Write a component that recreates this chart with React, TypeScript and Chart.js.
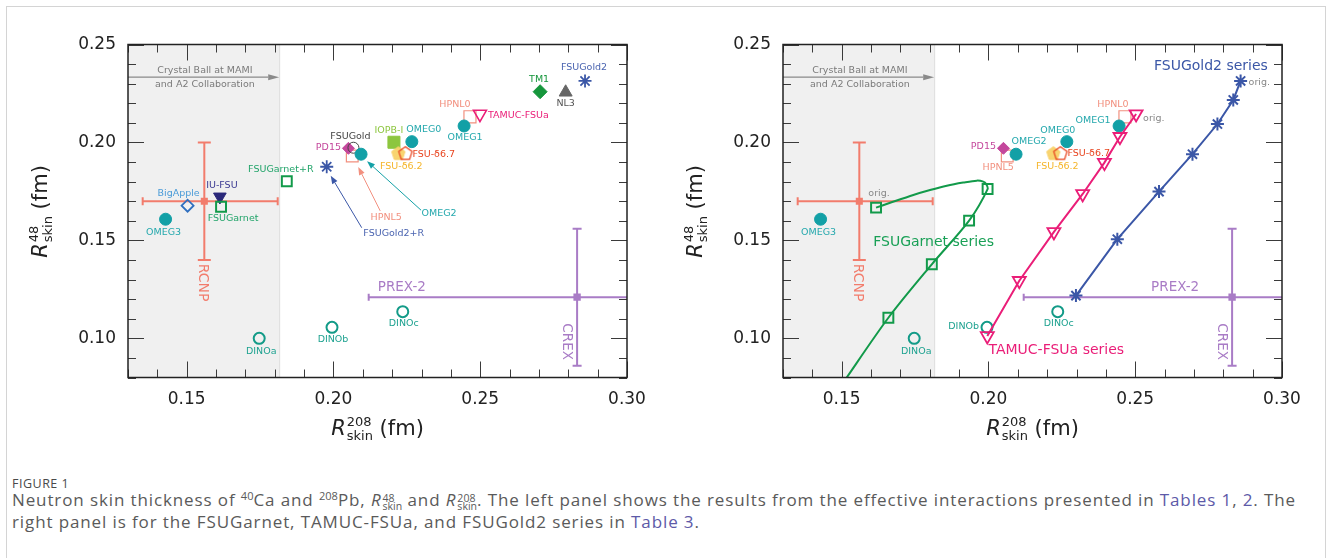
import React, { useEffect, useRef } from "react";
import { Chart, registerables } from "chart.js";

Chart.register(...registerables);

// ---------------- axes ----------------
const X_MIN = 0.13;
const X_MAX = 0.3;
const Y_MIN = 0.08;
const Y_MAX = 0.25;
const MAJOR_STEP = 0.05;
const MINOR_STEP = 0.01;
const X_TITLE_SUP = "208";
const Y_TITLE_SUP = "48";

// ---------------- left panel: effective interactions (R208 skin, R48 skin in fm) ----------------
const MODEL_NAMES = [
  "OMEG3", "BigApple", "IU-FSU", "FSUGarnet", "FSUGarnet+R", "FSUGold2+R", "HPNL5", "PD15", "FSUGold",
  "OMEG2", "IOPB-I", "OMEG0", "FSU-δ6.2", "FSU-δ6.7", "HPNL0", "OMEG1", "TAMUC-FSUa", "TM1", "NL3",
  "FSUGold2", "DINOa", "DINOb", "DINOc",
];
const MODEL_R208 = [
  0.1428, 0.1503, 0.1613, 0.1617, 0.1841, 0.1977, 0.2064, 0.2051, 0.2068,
  0.2094, 0.2206, 0.2267, 0.2221, 0.2245, 0.2465, 0.2445, 0.2499, 0.2704, 0.2791,
  0.2857, 0.1747, 0.1995, 0.2236,
];
const MODEL_R48 = [
  0.1608, 0.1677, 0.1723, 0.1672, 0.1802, 0.1876, 0.1931, 0.197, 0.1973,
  0.194, 0.2001, 0.2004, 0.1945, 0.1945, 0.2131, 0.2084, 0.2145, 0.2259, 0.2256,
  0.2314, 0.1, 0.1056, 0.1136,
];

// right panel: models repeated from the left panel
const RIGHT_MODELS = ["OMEG3", "DINOa", "DINOb", "DINOc", "HPNL5", "PD15", "OMEG2", "OMEG0", "FSU-δ6.2", "FSU-δ6.7", "HPNL0", "OMEG1"];

// ---------------- right panel: parameter series ----------------
const FSUGARNET_SERIES_R208 = [0.1617, 0.1997, 0.1934, 0.1807, 0.1659];
const FSUGARNET_SERIES_R48 = [0.1667, 0.1762, 0.1601, 0.1378, 0.1105];
const FSUGARNET_CURVE_R208 = [0.1617, 0.1665, 0.1744, 0.1801, 0.1858, 0.1914, 0.196, 0.1982, 0.1992, 0.1997, 0.1934, 0.1807, 0.1659, 0.1501];
const FSUGARNET_CURVE_R48 = [0.1667, 0.1692, 0.1732, 0.1757, 0.1779, 0.1795, 0.1805, 0.18, 0.1788, 0.1762, 0.1601, 0.1378, 0.1105, 0.0765];
const TAMUC_SERIES_R208 = [0.2503, 0.2448, 0.2395, 0.2321, 0.2223, 0.2105, 0.1996];
const TAMUC_SERIES_R48 = [0.2145, 0.2029, 0.1897, 0.1737, 0.1543, 0.1294, 0.1012];
const FSUGOLD2_SERIES_R208 = [0.2859, 0.2834, 0.278, 0.2695, 0.2581, 0.2439, 0.2298];
const FSUGOLD2_SERIES_R48 = [0.2314, 0.2217, 0.2094, 0.194, 0.1749, 0.1506, 0.1218];

// ---------------- experiments ----------------
const RCNP_R208 = [0.135, 0.156, 0.181]; // lo, central, hi
const RCNP_R48 = [0.14, 0.17, 0.2];
const PREX2_R208 = [0.212, 0.283, 0.354];
const CREX_R48 = [0.086, 0.121, 0.156];
const CRYSTAL_BALL_R208_MAX = 0.1815;
const CRYSTAL_BALL_TEXT = ["Crystal Ball at MAMI", "and A2 Collaboration"];

// ---------------- styles ----------------
const FONT = '"DejaVu Sans", sans-serif';
const TEAL = "#12a0a6";
const TEAL_TXT = "#24a8ad";
const DINO = "#139b88";
const DINO_TXT = "#1ea290";
const RCNP_COLOR = "#f27c6c";
const PREX_COLOR = "#a97cc6";
const GARNET = "#129a4a";
const GOLD2 = "#3b57a7";
const TAMUC = "#ea1e78";

type Shape = "circle" | "rect" | "rectRot" | "triangle" | "triangleDown" | "star" | "pentagon";
interface MStyle { shape: Shape; color: string; fill: string | null; r: number; lw: number; text: string; }

const STYLES: Record<string, MStyle> = {
  OMEG3: { shape: "circle", color: TEAL, fill: TEAL, r: 6, lw: 1, text: TEAL_TXT },
  BigApple: { shape: "rectRot", color: "#2f6fbf", fill: null, r: 6, lw: 1.8, text: "#4a9bd8" },
  "IU-FSU": { shape: "triangleDown", color: "#2a287a", fill: "#2a287a", r: 7.3, lw: 1, text: "#3b3a92" },
  FSUGarnet: { shape: "rect", color: GARNET, fill: null, r: 7, lw: 2, text: "#22a46a" },
  "FSUGarnet+R": { shape: "rect", color: GARNET, fill: null, r: 7, lw: 2, text: "#22a46a" },
  "FSUGold2+R": { shape: "star", color: GOLD2, fill: null, r: 6.5, lw: 1.8, text: "#4a64b0" },
  HPNL5: { shape: "rect", color: "#f2907f", fill: null, r: 8.3, lw: 1.2, text: "#f2907f" },
  PD15: { shape: "rectRot", color: "#c4479c", fill: "#c4479c", r: 6, lw: 1, text: "#c4479c" },
  FSUGold: { shape: "circle", color: "#444", fill: null, r: 5.5, lw: 1, text: "#444" },
  OMEG2: { shape: "circle", color: TEAL, fill: TEAL, r: 6, lw: 1, text: TEAL_TXT },
  "IOPB-I": { shape: "rect", color: "#8dc63f", fill: "#8dc63f", r: 8.5, lw: 1, text: "#8dc63f" },
  OMEG0: { shape: "circle", color: TEAL, fill: TEAL, r: 6, lw: 1, text: TEAL_TXT },
  "FSU-δ6.2": { shape: "pentagon", color: "#f8d06a", fill: "#f8d470", r: 7, lw: 1, text: "#f5b52a" },
  "FSU-δ6.7": { shape: "pentagon", color: "#e8441f", fill: null, r: 7, lw: 1.3, text: "#e8441f" },
  HPNL0: { shape: "rect", color: "#f2907f", fill: null, r: 8.5, lw: 1.2, text: "#f2907f" },
  OMEG1: { shape: "circle", color: TEAL, fill: TEAL, r: 6, lw: 1, text: TEAL_TXT },
  "TAMUC-FSUa": { shape: "triangleDown", color: TAMUC, fill: null, r: 7.5, lw: 1.6, text: TAMUC },
  TM1: { shape: "rectRot", color: "#16963c", fill: "#16963c", r: 7, lw: 1, text: "#16963c" },
  NL3: { shape: "triangle", color: "#666", fill: "#666", r: 7.5, lw: 1, text: "#555" },
  FSUGold2: { shape: "star", color: GOLD2, fill: null, r: 6.5, lw: 1.8, text: "#4a64b0" },
  DINOa: { shape: "circle", color: DINO, fill: null, r: 5.5, lw: 2, text: DINO_TXT },
  DINOb: { shape: "circle", color: DINO, fill: null, r: 5.5, lw: 2, text: DINO_TXT },
  DINOc: { shape: "circle", color: DINO, fill: null, r: 5.5, lw: 2, text: DINO_TXT },
};

// ---------------- label layout (pixel offsets from the marker) ----------------
type Align = "left" | "center" | "right";
type LabelPos = [number, number, Align];
const LEFT_LABEL_POS: Record<string, LabelPos> = {
  OMEG3: [-2, 13, "center"], BigApple: [-9, -12, "center"], "IU-FSU": [2, -11, "center"],
  FSUGarnet: [12, 12, "center"], "FSUGarnet+R": [-6, -12, "center"], PD15: [-20, -1, "center"],
  FSUGold: [-3, -11, "center"], "IOPB-I": [-5, -12, "center"], OMEG0: [12, -12, "center"],
  "FSU-δ6.2": [3, 13, "center"], "FSU-δ6.7": [7, 1, "left"], HPNL0: [-15, -12, "center"],
  "TAMUC-FSUa": [8, 1, "left"], OMEG1: [1, 12, "center"], TM1: [-1, -12, "center"], NL3: [0, 11, "center"],
  FSUGold2: [-1, -13, "center"], DINOa: [2, 13, "center"], DINOb: [1, 12, "center"], DINOc: [1, 12, "center"],
};
const LEFT_ARROW_LABELS: Record<string, { label: [number, number]; from: [number, number]; to: [number, number] }> = {
  "FSUGold2+R": { label: [67, 67], from: [35, 61], to: [4, 9] },
  HPNL5: { label: [34, 62], from: [28, 55], to: [6, 11] },
  OMEG2: { label: [78, 59], from: [60, 56], to: [6, 7] },
};
const RIGHT_LABEL_POS: Record<string, LabelPos> = {
  OMEG3: [-2, 13, "center"], DINOa: [2, 13, "center"], DINOb: [-8, -1, "right"], DINOc: [1, 12, "center"],
  PD15: [-20, -2, "center"], HPNL5: [-9, 12, "center"], OMEG2: [13, -13, "center"], OMEG0: [-9, -11, "center"],
  "FSU-δ6.2": [4, 13, "center"], "FSU-δ6.7": [7, 0, "left"], OMEG1: [-26, -5, "center"], HPNL0: [-12, -12, "center"],
};
const ORIG_LABEL_POS: LabelPos[] = [[3, -14, "center"], [7, 4, "left"], [8, 2, "left"]];

// text anchors in data coordinates
const CB_ARROW_R48 = 0.2333;
const CB_TEXT_POS = [[0.1562, 0.2366], [0.1562, 0.2297]];
const RCNP_TEXT_POS = [0.1554, 0.1285];
const CREX_TEXT_POS = [0.2795, 0.0983];
const PREX_TEXT_LEFT: [number, number, Align] = [0.2151, 0.1261, "left"];
const PREX_TEXT_RIGHT: [number, number, Align] = [0.2636, 0.1261, "center"];
const SERIES_TEXT: { text: string; pos: [number, number, Align]; color: string }[] = [
  { text: "FSUGold2 series", pos: [0.2952, 0.2387, "right"], color: GOLD2 },
  { text: "FSUGarnet series", pos: [0.1813, 0.149, "center"], color: "#19a056" },
  { text: "TAMUC-FSUa series", pos: [0.2, 0.094, "left"], color: TAMUC },
];

// ---------------- helpers ----------------
function pentagonCanvas(s: MStyle): HTMLCanvasElement {
  const size = Math.ceil(s.r * 2 + 4);
  const c = document.createElement("canvas");
  c.width = size; c.height = size;
  const g = c.getContext("2d")!;
  const cx = size / 2, cy = size / 2 + 0.5;
  g.beginPath();
  for (let k = 0; k < 5; k++) {
    const a = -Math.PI / 2 + (k * 2 * Math.PI) / 5;
    const px = cx + s.r * Math.cos(a), py = cy + s.r * Math.sin(a);
    if (k === 0) g.moveTo(px, py); else g.lineTo(px, py);
  }
  g.closePath();
  if (s.fill) { g.fillStyle = s.fill; g.fill(); }
  g.strokeStyle = s.color; g.lineWidth = s.lw; g.stroke();
  return c;
}

function modelValue(name: string): [number, number] {
  const i = MODEL_NAMES.indexOf(name);
  return [MODEL_R208[i], MODEL_R48[i]];
}

function modelDataset(name: string, order: number) {
  const s = STYLES[name];
  const [x, y] = modelValue(name);
  return {
    label: name,
    data: [{ x, y }],
    showLine: false,
    order,
    pointStyle: s.shape === "triangleDown" ? "triangle" : s.shape === "pentagon" ? pentagonCanvas(s) : s.shape,
    pointRotation: s.shape === "triangleDown" ? 180 : 0,
    pointRadius: s.r,
    pointBorderWidth: s.lw,
    pointBorderColor: s.color,
    pointBackgroundColor: s.fill ?? "rgba(0,0,0,0)",
  };
}

function zip(xs: number[], ys: number[]) {
  return xs.map((x, i) => ({ x, y: ys[i] }));
}

function txt(ctx: CanvasRenderingContext2D, s: string, x: number, y: number, color: string, size: number, align: Align = "center", rot = 0) {
  ctx.save();
  ctx.translate(x, y);
  if (rot) ctx.rotate(rot);
  ctx.font = `${size}px ${FONT}`;
  ctx.fillStyle = color;
  ctx.textAlign = align;
  ctx.textBaseline = "middle";
  ctx.fillText(s, 0, 0);
  ctx.restore();
}

function arrow(ctx: CanvasRenderingContext2D, x1: number, y1: number, x2: number, y2: number, color: string, lw: number, hl: number, hw: number) {
  const ang = Math.atan2(y2 - y1, x2 - x1);
  const bx = x2 - hl * Math.cos(ang), by = y2 - hl * Math.sin(ang);
  ctx.save();
  ctx.strokeStyle = color; ctx.fillStyle = color; ctx.lineWidth = lw;
  ctx.beginPath(); ctx.moveTo(x1, y1); ctx.lineTo(bx, by); ctx.stroke();
  ctx.beginPath();
  ctx.moveTo(x2, y2);
  ctx.lineTo(bx + (hw / 2) * Math.sin(ang), by - (hw / 2) * Math.cos(ang));
  ctx.lineTo(bx - (hw / 2) * Math.sin(ang), by + (hw / 2) * Math.cos(ang));
  ctx.closePath(); ctx.fill();
  ctx.restore();
}

function skinTitle(ctx: CanvasRenderingContext2D, cx: number, cy: number, sup: string, rot: number) {
  const S = 21, s = 13;
  ctx.save();
  ctx.translate(cx, cy);
  if (rot) ctx.rotate(rot);
  ctx.fillStyle = "#222";
  ctx.textBaseline = "alphabetic";
  ctx.textAlign = "left";
  const fI = `italic ${S}px ${FONT}`, fB = `${S}px ${FONT}`, fS = `${s}px ${FONT}`;
  ctx.font = fI; const wR = ctx.measureText("R").width;
  ctx.font = fS; const wS = Math.max(ctx.measureText(sup).width, ctx.measureText("skin").width);
  ctx.font = fB; const wU = ctx.measureText(" (fm)").width;
  const x0 = -(wR + 1 + wS + wU) / 2;
  const base = 7;
  ctx.font = fI; ctx.fillText("R", x0, base);
  ctx.font = fS;
  ctx.fillText(sup, x0 + wR + 1, base - 9);
  ctx.fillText("skin", x0 + wR + 1, base + 5);
  ctx.font = fB; ctx.fillText(" (fm)", x0 + wR + 1 + wS, base);
  ctx.restore();
}

function decorPlugin(side: "left" | "right") {
  return {
    id: "decor-" + side,
    beforeDatasetsDraw(chart: any) {
      const { ctx, chartArea: a, scales } = chart;
      const x = scales.x, y = scales.y;
      ctx.save();
      ctx.beginPath(); ctx.rect(a.left, a.top, a.right - a.left, a.bottom - a.top); ctx.clip();
      const xe = x.getPixelForValue(CRYSTAL_BALL_R208_MAX);
      ctx.fillStyle = "#f0f0f0";
      ctx.fillRect(a.left, a.top, xe - a.left, a.bottom - a.top);
      ctx.strokeStyle = "#dcdcdc"; ctx.lineWidth = 1;
      ctx.beginPath(); ctx.moveTo(xe + 0.5, a.top); ctx.lineTo(xe + 0.5, a.bottom); ctx.stroke();
      const ya = y.getPixelForValue(CB_ARROW_R48);
      arrow(ctx, x.getPixelForValue(X_MIN), ya, xe, ya, "#8a8a8a", 1.2, 11, 6);
      CRYSTAL_BALL_TEXT.forEach((t, i) =>
        txt(ctx, t, x.getPixelForValue(CB_TEXT_POS[i][0]), y.getPixelForValue(CB_TEXT_POS[i][1]), "#7a7a7a", 9.5));
      ctx.restore();
    },
    afterDatasetsDraw(chart: any) {
      const { ctx, chartArea: a, scales } = chart;
      const x = scales.x, y = scales.y;
      const px = (v: number) => x.getPixelForValue(v);
      const py = (v: number) => y.getPixelForValue(v);
      // ticks on all four sides, inward
      ctx.save();
      ctx.strokeStyle = "#3a3a3a"; ctx.lineWidth = 1;
      const every = Math.round(MAJOR_STEP / MINOR_STEP);
      ctx.beginPath();
      for (let i = Math.round(X_MIN / MINOR_STEP); i <= Math.round(X_MAX / MINOR_STEP); i++) {
        const p = Math.round(px(i * MINOR_STEP)) + 0.5;
        const len = i % every === 0 ? 16 : 8;
        ctx.moveTo(p, a.bottom); ctx.lineTo(p, a.bottom - len);
        ctx.moveTo(p, a.top); ctx.lineTo(p, a.top + len);
      }
      for (let i = Math.round(Y_MIN / MINOR_STEP); i <= Math.round(Y_MAX / MINOR_STEP); i++) {
        const p = Math.round(py(i * MINOR_STEP)) + 0.5;
        const len = i % every === 0 ? 16 : 8;
        ctx.moveTo(a.left, p); ctx.lineTo(a.left + len, p);
        ctx.moveTo(a.right, p); ctx.lineTo(a.right - len, p);
      }
      ctx.stroke();
      ctx.strokeStyle = "#222"; ctx.lineWidth = 1.5;
      ctx.strokeRect(a.left, a.top, a.right - a.left, a.bottom - a.top);
      ctx.restore();

      // experiment labels
      txt(ctx, "RCNP", px(RCNP_TEXT_POS[0]), py(RCNP_TEXT_POS[1]), RCNP_COLOR, 14, "center", Math.PI / 2);
      txt(ctx, "CREX", px(CREX_TEXT_POS[0]), py(CREX_TEXT_POS[1]), PREX_COLOR, 13.5, "center", Math.PI / 2);
      const pp = side === "left" ? PREX_TEXT_LEFT : PREX_TEXT_RIGHT;
      txt(ctx, "PREX-2", px(pp[0]), py(pp[1]), PREX_COLOR, 13.5, pp[2]);

      // model labels
      const pos = side === "left" ? LEFT_LABEL_POS : RIGHT_LABEL_POS;
      const names = side === "left" ? MODEL_NAMES : RIGHT_MODELS;
      names.forEach((n) => {
        const [vx, vy] = modelValue(n);
        const mx = px(vx), my = py(vy);
        const st = STYLES[n];
        if (pos[n]) {
          const [dx, dy, al] = pos[n];
          txt(ctx, n, mx + dx, my + dy, st.text, 9.5, al);
        } else if (side === "left" && LEFT_ARROW_LABELS[n]) {
          const L = LEFT_ARROW_LABELS[n];
          arrow(ctx, mx + L.from[0], my + L.from[1], mx + L.to[0], my + L.to[1], st.color, 1, 8, 6);
          txt(ctx, n, mx + L.label[0], my + L.label[1], st.text, 9.5, "center");
        }
      });

      if (side === "right") {
        const origs: [number, number][] = [
          [FSUGARNET_SERIES_R208[0], FSUGARNET_SERIES_R48[0]],
          [TAMUC_SERIES_R208[0], TAMUC_SERIES_R48[0]],
          [FSUGOLD2_SERIES_R208[0], FSUGOLD2_SERIES_R48[0]],
        ];
        origs.forEach(([vx, vy], i) => {
          const [dx, dy, al] = ORIG_LABEL_POS[i];
          txt(ctx, "orig.", px(vx) + dx, py(vy) + dy, "#888", 9.5, al);
        });
        SERIES_TEXT.forEach((s) => txt(ctx, s.text, px(s.pos[0]), py(s.pos[1]), s.color, 14, s.pos[2]));
      }

      // axis titles
      skinTitle(ctx, (a.left + a.right) / 2, 428, X_TITLE_SUP, 0);
      skinTitle(ctx, 40, (a.top + a.bottom) / 2 + 0.5, Y_TITLE_SUP, -Math.PI / 2);
    },
  };
}

function errorBarDatasets() {
  return [
    {
      data: [{ x: RCNP_R208[0], y: RCNP_R48[1] }, { x: RCNP_R208[2], y: RCNP_R48[1] }],
      showLine: true, borderColor: RCNP_COLOR, borderWidth: 2, clip: 0, order: 80,
      pointStyle: "line", pointRotation: 90, pointRadius: 4, pointBorderWidth: 2, pointBorderColor: RCNP_COLOR,
    },
    {
      data: [{ x: RCNP_R208[1], y: RCNP_R48[0] }, { x: RCNP_R208[1], y: RCNP_R48[2] }],
      showLine: true, borderColor: RCNP_COLOR, borderWidth: 2, clip: 0, order: 80,
      pointStyle: "line", pointRotation: 0, pointRadius: 6.5, pointBorderWidth: 2, pointBorderColor: RCNP_COLOR,
    },
    {
      data: [{ x: RCNP_R208[1], y: RCNP_R48[1] }], showLine: false, order: 79,
      pointStyle: "rect", pointRadius: 5, pointBorderWidth: 0, pointBackgroundColor: RCNP_COLOR,
    },
    {
      data: [{ x: PREX2_R208[0], y: CREX_R48[1] }, { x: PREX2_R208[2], y: CREX_R48[1] }],
      showLine: true, borderColor: PREX_COLOR, borderWidth: 2, clip: 0, order: 80,
      pointStyle: "line", pointRotation: 90, pointRadius: 3.5, pointBorderWidth: 2, pointBorderColor: PREX_COLOR,
    },
    {
      data: [{ x: PREX2_R208[1], y: CREX_R48[0] }, { x: PREX2_R208[1], y: CREX_R48[2] }],
      showLine: true, borderColor: PREX_COLOR, borderWidth: 2, clip: 0, order: 80,
      pointStyle: "line", pointRotation: 0, pointRadius: 4.5, pointBorderWidth: 2, pointBorderColor: PREX_COLOR,
    },
    {
      data: [{ x: PREX2_R208[1], y: CREX_R48[1] }], showLine: false, order: 79,
      pointStyle: "rect", pointRadius: 5.2, pointBorderWidth: 0, pointBackgroundColor: PREX_COLOR,
    },
  ];
}

function seriesDatasets() {
  const garnet = STYLES.FSUGarnet, tam = STYLES["TAMUC-FSUa"], gold = STYLES.FSUGold2;
  return [
    {
      data: zip(FSUGARNET_CURVE_R208, FSUGARNET_CURVE_R48), showLine: true, tension: 0.3,
      borderColor: GARNET, borderWidth: 2, pointRadius: 0, clip: 0, order: 20,
    },
    {
      data: zip(FSUGARNET_SERIES_R208, FSUGARNET_SERIES_R48), showLine: false, order: 10,
      pointStyle: "rect", pointRadius: garnet.r, pointBorderWidth: 2, pointBorderColor: GARNET, pointBackgroundColor: "rgba(0,0,0,0)",
    },
    {
      data: zip(TAMUC_SERIES_R208, TAMUC_SERIES_R48), showLine: true, tension: 0, borderColor: TAMUC, borderWidth: 2, order: 10,
      pointStyle: "triangle", pointRotation: 180, pointRadius: tam.r, pointBorderWidth: 1.8, pointBorderColor: TAMUC,
      pointBackgroundColor: "rgba(0,0,0,0)",
    },
    {
      data: zip(FSUGOLD2_SERIES_R208, FSUGOLD2_SERIES_R48), showLine: true, tension: 0, borderColor: GOLD2, borderWidth: 2, order: 10,
      pointStyle: "star", pointRadius: gold.r, pointBorderWidth: 2, pointBorderColor: GOLD2,
    },
  ];
}

function buildConfig(side: "left" | "right"): any {
  const names = side === "left" ? MODEL_NAMES : RIGHT_MODELS;
  const datasets: any[] = [
    ...errorBarDatasets(),
    ...names.map((n, i) => modelDataset(n, 50 - i)),
  ];
  if (side === "right") datasets.push(...seriesDatasets());
  const tickFont = { family: FONT, size: 17 };
  return {
    type: "scatter",
    data: { datasets },
    options: {
      animation: false,
      responsive: false,
      maintainAspectRatio: false,
      events: [],
      layout: { padding: { left: 0, top: 44.5, right: 38, bottom: 0 } },
      plugins: { legend: { display: false }, tooltip: { enabled: false } },
      scales: {
        x: {
          type: "linear", min: X_MIN, max: X_MAX,
          afterFit: (s: any) => { s.height = 72.5; },
          grid: { display: false, drawTicks: false }, border: { display: false },
          ticks: {
            stepSize: MAJOR_STEP, includeBounds: false, padding: 12, font: tickFont, color: "#222",
            maxRotation: 0, autoSkip: false, callback: (v: any) => Number(v).toFixed(2),
          },
        },
        y: {
          type: "linear", min: Y_MIN, max: Y_MAX,
          afterFit: (s: any) => { s.width = 128; },
          grid: { display: false, drawTicks: false }, border: { display: false },
          ticks: {
            stepSize: MAJOR_STEP, includeBounds: false, padding: 12, font: tickFont, color: "#222",
            autoSkip: false, callback: (v: any) => Number(v).toFixed(2),
          },
        },
      },
    },
    plugins: [decorPlugin(side)],
  };
}

function Panel({ side, left }: { side: "left" | "right"; left: number }) {
  const ref = useRef<HTMLCanvasElement>(null);
  useEffect(() => {
    const chart = new Chart(ref.current!, buildConfig(side));
    return () => chart.destroy();
  }, [side]);
  return (
    <canvas ref={ref} width={665} height={450}
      style={{ position: "absolute", left, top: 0, width: 665, height: 450 }} />
  );
}

const LINK = "#5d5aa8";
const CAPTION_LINE1_WIDTH = 1284;

function RSkin({ sup }: { sup: string }) {
  return (
    <span style={{ whiteSpace: "nowrap" }}>
      <i>R</i>
      <span style={{ display: "inline-block", verticalAlign: "-0.42em", lineHeight: "0.8em", fontSize: "0.62em", marginLeft: 1, letterSpacing: 0 }}>
        <span style={{ display: "block" }}>{sup}</span>
        <span style={{ display: "block" }}>skin</span>
      </span>
    </span>
  );
}

function Caption() {
  const boxRef = useRef<HTMLDivElement>(null);
  const lineRef = useRef<HTMLSpanElement>(null);
  useEffect(() => {
    const box = boxRef.current, line = lineRef.current;
    if (!box || !line) return;
    let ls = 0;
    box.style.letterSpacing = "0px";
    const n = 140;
    for (let k = 0; k < 4; k++) {
      const w = line.getBoundingClientRect().width;
      ls += (CAPTION_LINE1_WIDTH - w) / n;
      box.style.letterSpacing = `${ls}px`;
    }
  }, []);
  const supStyle: React.CSSProperties = { fontSize: "0.65em", lineHeight: 0, verticalAlign: "0.55em", letterSpacing: 0 };
  return (
    <div ref={boxRef} style={{ position: "absolute", left: 12, top: 489, width: 1315, fontFamily: "'Open Sans', sans-serif", fontSize: 17, lineHeight: "22px", color: "#5a5a5a", whiteSpace: "nowrap" }}>
      <span ref={lineRef}>
        Neutron skin thickness of <span style={supStyle}>40</span>Ca and <span style={supStyle}>208</span>Pb, <RSkin sup="48" /> and <RSkin sup="208" />. The left panel shows the results from the effective interactions presented in <span style={{ color: LINK }}>Tables 1</span>, <span style={{ color: LINK }}>2</span>. The
      </span>
      <br />
      <span>right panel is for the FSUGarnet, TAMUC-FSUa, and FSUGold2 series in <span style={{ color: LINK }}>Table 3</span>.</span>
    </div>
  );
}

export default function App() {
  return (
    <div style={{ position: "absolute", left: 0, top: 0, width: 1331, height: 558, background: "#fff", overflow: "hidden" }}>
      <div style={{ position: "absolute", left: 6, top: 6, width: 1318, height: 620, border: "1px solid #d4d4d4" }} />
      <Panel side="left" left={0} />
      <Panel side="right" left={655} />
      <div style={{ position: "absolute", left: 12, top: 477, fontFamily: "'Open Sans', sans-serif", fontSize: 12.5, lineHeight: "14px", color: "#4a4a4a", letterSpacing: 0.5 }}>
        FIGURE 1
      </div>
      <Caption />
    </div>
  );
}
